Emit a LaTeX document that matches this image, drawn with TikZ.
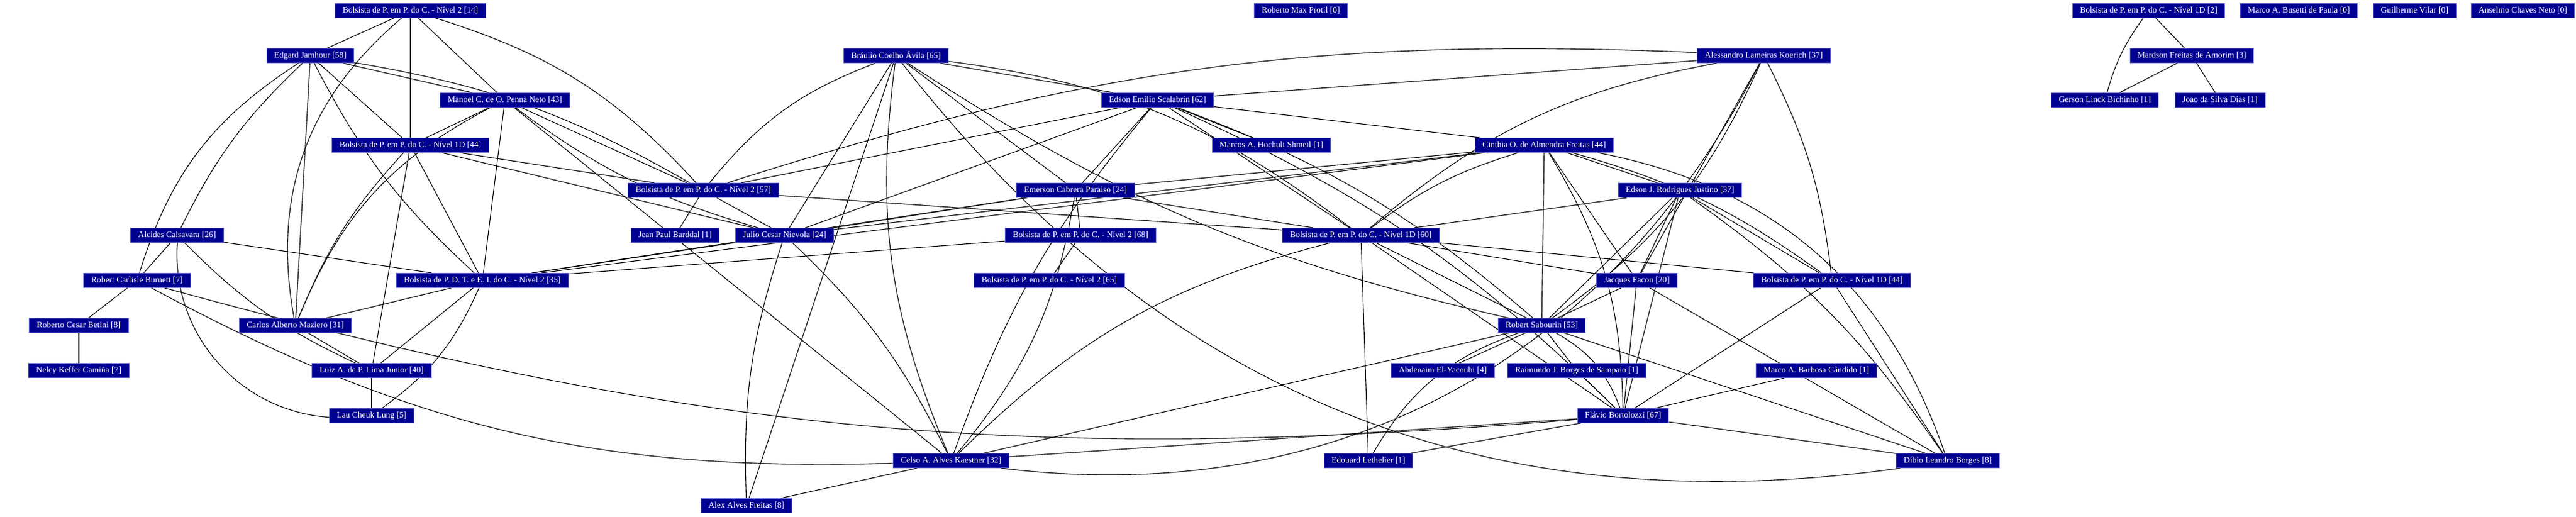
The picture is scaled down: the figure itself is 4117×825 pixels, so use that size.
\documentclass[tikz,border=0pt]{standalone}
\usepackage{fontspec}
\setmainfont{Liberation Serif}
\usepackage{xcolor}
\usepackage{tikz}
\usetikzlibrary{backgrounds}
\definecolor{boxblue}{RGB}{0,0,145}
\definecolor{boxline}{RGB}{100,100,210}

\begin{document}
\begin{tikzpicture}[x=0.25pt,y=-0.25pt]
	\tikzstyle{person}=[rectangle,draw=boxline,fill=boxblue,text=white,font=\fontsize{3.4}{4}\selectfont,minimum height=5.75pt,inner xsep=3pt,inner ysep=0.5pt,line width=0.25pt]
	\tikzstyle{link}=[draw=black,line width=0.28pt]
	\useasboundingbox (0,0) rectangle (4117,825);
	% first row
	\node[person](b14) at (656,17) {Bolsista de P. em P. do C. - Nível 2 [14]};
	\node[person](protil) at (2079,17) {Roberto Max Protil [0]};
	\node[person](b1d2) at (3434,17) {Bolsista de P. em P. do C. - Nível 1D [2]};
	\node[person](busetti) at (3674,17) {Marco A. Busetti de Paula [0]};
	\node[person](vilar) at (3859,17) {Guilherme Vilar [0]};
	\node[person](anselmo) at (4032,17) {Anselmo Chaves Neto [0]};
	\node[person](edgard) at (496,89) {Edgard Jamhour [58]};
	\node[person](braulio) at (1432,89) {Bráulio Coelho Ávila [65]};
	\node[person](koerich) at (2819,89) {Alessandro Lameiras Koerich [37]};
	\node[person](mardson) at (3503,89) {Mardson Freitas de Amorim [3]};
	\node[person](manoel) at (807,160) {Manoel C. de O. Penna Neto [43]};
	\node[person](scalabrin) at (1850,160) {Edson Emílio Scalabrin [62]};
	\node[person](gerson) at (3364,160) {Gerson Linck Bichinho [1]};
	\node[person](joao) at (3548,160) {Joao da Silva Dias [1]};
	\node[person](b1d44a) at (656,232) {Bolsista de P. em P. do C. - Nível 1D [44]};
	\node[person](hochuli) at (2032,232) {Marcos A. Hochuli Shmeil [1]};
	\node[person](cinthia) at (2468,232) {Cinthia O. de Almendra Freitas [44]};
	\node[person](b57) at (1124,304) {Bolsista de P. em P. do C. - Nível 2 [57]};
	\node[person](emerson) at (1719,304) {Emerson Cabrera Paraiso [24]};
	\node[person](justino) at (2685,304) {Edson J. Rodrigues Justino [37]};
	\node[person](alcides) at (283,376) {Alcides Calsavara [26]};
	\node[person](jean) at (1079,376) {Jean Paul Barddal [1]};
	\node[person](julio) at (1254,376) {Julio Cesar Nievola [24]};
	\node[person](b68) at (1727,376) {Bolsista de P. em P. do C. - Nível 2 [68]};
	\node[person](b1d60) at (2175,376) {Bolsista de P. em P. do C. - Nível 1D [60]};
	\node[person](burnett) at (219,448) {Robert Carlisle Burnett [7]};
	\node[person](b35) at (771,448) {Bolsista de P. D. T. e E. I. do C. - Nível 2 [35]};
	\node[person](b65) at (1677,448) {Bolsista de P. em P. do C. - Nível 2 [65]};
	\node[person](facon) at (2616,448) {Jacques Facon [20]};
	\node[person](b1d44b) at (2928,448) {Bolsista de P. em P. do C. - Nível 1D [44]};
	\node[person](betini) at (126,520) {Roberto Cesar Betini [8]};
	\node[person](carlos) at (472,520) {Carlos Alberto Maziero [31]};
	\node[person](sabourin) at (2464,520) {Robert Sabourin [53]};
	\node[person](nelcy) at (126,592) {Nelcy Keffer Camiña [7]};
	\node[person](luiz) at (594,592) {Luiz A. de P. Lima Junior [40]};
	\node[person](abdenaim) at (2306,592) {Abdenaim El-Yacoubi [4]};
	\node[person](raimundo) at (2520,592) {Raimundo J. Borges de Sampaio [1]};
	\node[person](candido) at (2903,592) {Marco A. Barbosa Cândido [1]};
	\node[person](lau) at (594,664) {Lau Cheuk Lung [5]};
	\node[person](flavio) at (2594,664) {Flávio Bortolozzi [67]};
	\node[person](celso) at (1520,736) {Celso A. Alves Kaestner [32]};
	\node[person](lethelier) at (2187,736) {Edouard Lethelier [1]};
	\node[person](dibio) at (3113,736) {Díbio Leandro Borges [8]};
	\node[person](alex) at (1193,808) {Alex Alves Freitas [8]};
	\begin{pgfonlayer}{background}
	\path[link]
		(b14) edge (edgard)
		(b14) edge (b1d44a)
		(b14) edge (manoel)
		(b14) edge[bend left=15] (b57)
		(b14) edge[bend right=30] (carlos)
		(edgard) edge (manoel)
		(edgard) edge (b1d44a)
		(edgard) edge[bend left=10] (b57)
		(edgard) edge[bend right=10] (alcides)
		(edgard) edge[bend right=20] (burnett)
		(edgard) edge (carlos)
		(edgard) edge[bend right=10] (b35)
		(manoel) edge (b1d44a)
		(manoel) edge (b57)
		(manoel) edge[bend right=10] (julio)
		(manoel) edge (b35)
		(manoel) edge[bend right=20] (carlos)
		(manoel) edge (celso)
		(b1d44a) edge (b57)
		(b1d44a) edge (julio)
		(b1d44a) edge (b35)
		(b1d44a) edge[bend right=10] (carlos)
		(b1d44a) edge (luiz)
		(alcides) edge (b35)
		(alcides) edge (burnett)
		(alcides) edge[bend right=10] (luiz)
		(alcides) edge[bend right=45] (lau)
		(burnett) edge (betini)
		(burnett) edge[bend right=15] (celso)
		(burnett) edge[bend right=10] (flavio)
		(betini) edge (nelcy)
		(carlos) edge (luiz)
		(b35) edge (carlos)
		(b35) edge (luiz)
		(b35) edge[bend left=15] (lau)
		(luiz) edge (lau)
		(b35) edge (julio)
		(b35) edge (emerson)
		(b35) edge (b68)
		(b35) edge (cinthia)
		(b57) edge (jean)
		(b57) edge (julio)
		(b57) edge (b1d60)
		(b57) edge (scalabrin)
		(b57) edge[bend left=10] (koerich)
		(braulio) edge[bend right=15] (b57)
		(braulio) edge (julio)
		(braulio) edge[bend right=15] (celso)
		(braulio) edge (alex)
		(braulio) edge[bend right=30] (dibio)
		(braulio) edge[bend right=10] (sabourin)
		(braulio) edge (emerson)
		(braulio) edge (scalabrin)
		(braulio) edge[bend left=15] (b1d60)
		(julio) edge (scalabrin)
		(julio) edge (emerson)
		(julio) edge (cinthia)
		(julio) edge[bend right=10] (alex)
		(julio) edge[bend left=10] (celso)
		(scalabrin) edge[bend right=10] (celso)
		(scalabrin) edge (emerson)
		(scalabrin) edge[bend left=10] (flavio)
		(scalabrin) edge (b1d60)
		(scalabrin) edge (hochuli)
		(scalabrin) edge (koerich)
		(scalabrin) edge (cinthia)
		(scalabrin) edge[bend left=10] (sabourin)
		(emerson) edge (b68)
		(emerson) edge[bend left=15] (celso)
		(emerson) edge (b1d60)
		(emerson) edge (cinthia)
		(b68) edge (b65)
		(koerich) edge[bend right=15] (b1d60)
		(koerich) edge (facon)
		(koerich) edge[bend left=10] (b1d44b)
		(koerich) edge[bend left=15] (sabourin)
		(koerich) edge[bend left=35] (celso)
		(cinthia) edge[bend left=30] (dibio)
		(cinthia) edge[bend left=15] (flavio)
		(cinthia) edge[bend left=10] (b1d44b)
		(cinthia) edge[bend right=10] (b1d60)
		(cinthia) edge (sabourin)
		(cinthia) edge (facon)
		(cinthia) edge (justino)
		(justino) edge (sabourin)
		(justino) edge (facon)
		(justino) edge (flavio)
		(justino) edge[bend left=10] (dibio)
		(justino) edge (b1d44b)
		(justino) edge (b1d60)
		(b1d60) edge (b1d44b)
		(b1d60) edge (facon)
		(b1d60) edge (flavio)
		(b1d60) edge (sabourin)
		(b1d60) edge (lethelier)
		(b1d60) edge[bend right=15] (celso)
		(celso) edge (sabourin)
		(celso) edge (flavio)
		(celso) edge (alex)
		(sabourin) edge (abdenaim)
		(sabourin) edge (raimundo)
		(sabourin) edge[bend right=20] (lethelier)
		(sabourin) edge[bend left=20] (flavio)
		(sabourin) edge (dibio)
		(sabourin) edge (facon)
		(facon) edge (flavio)
		(facon) edge (dibio)
		(flavio) edge (raimundo)
		(flavio) edge (candido)
		(flavio) edge (lethelier)
		(flavio) edge (dibio)
		(flavio) edge (b1d44b)
		(b1d44b) edge (dibio)
		(b1d2) edge[bend right=10] (gerson)
		(b1d2) edge (mardson)
		(mardson) edge (gerson)
		(mardson) edge (joao);
	\end{pgfonlayer}
\end{tikzpicture}
\end{document}
